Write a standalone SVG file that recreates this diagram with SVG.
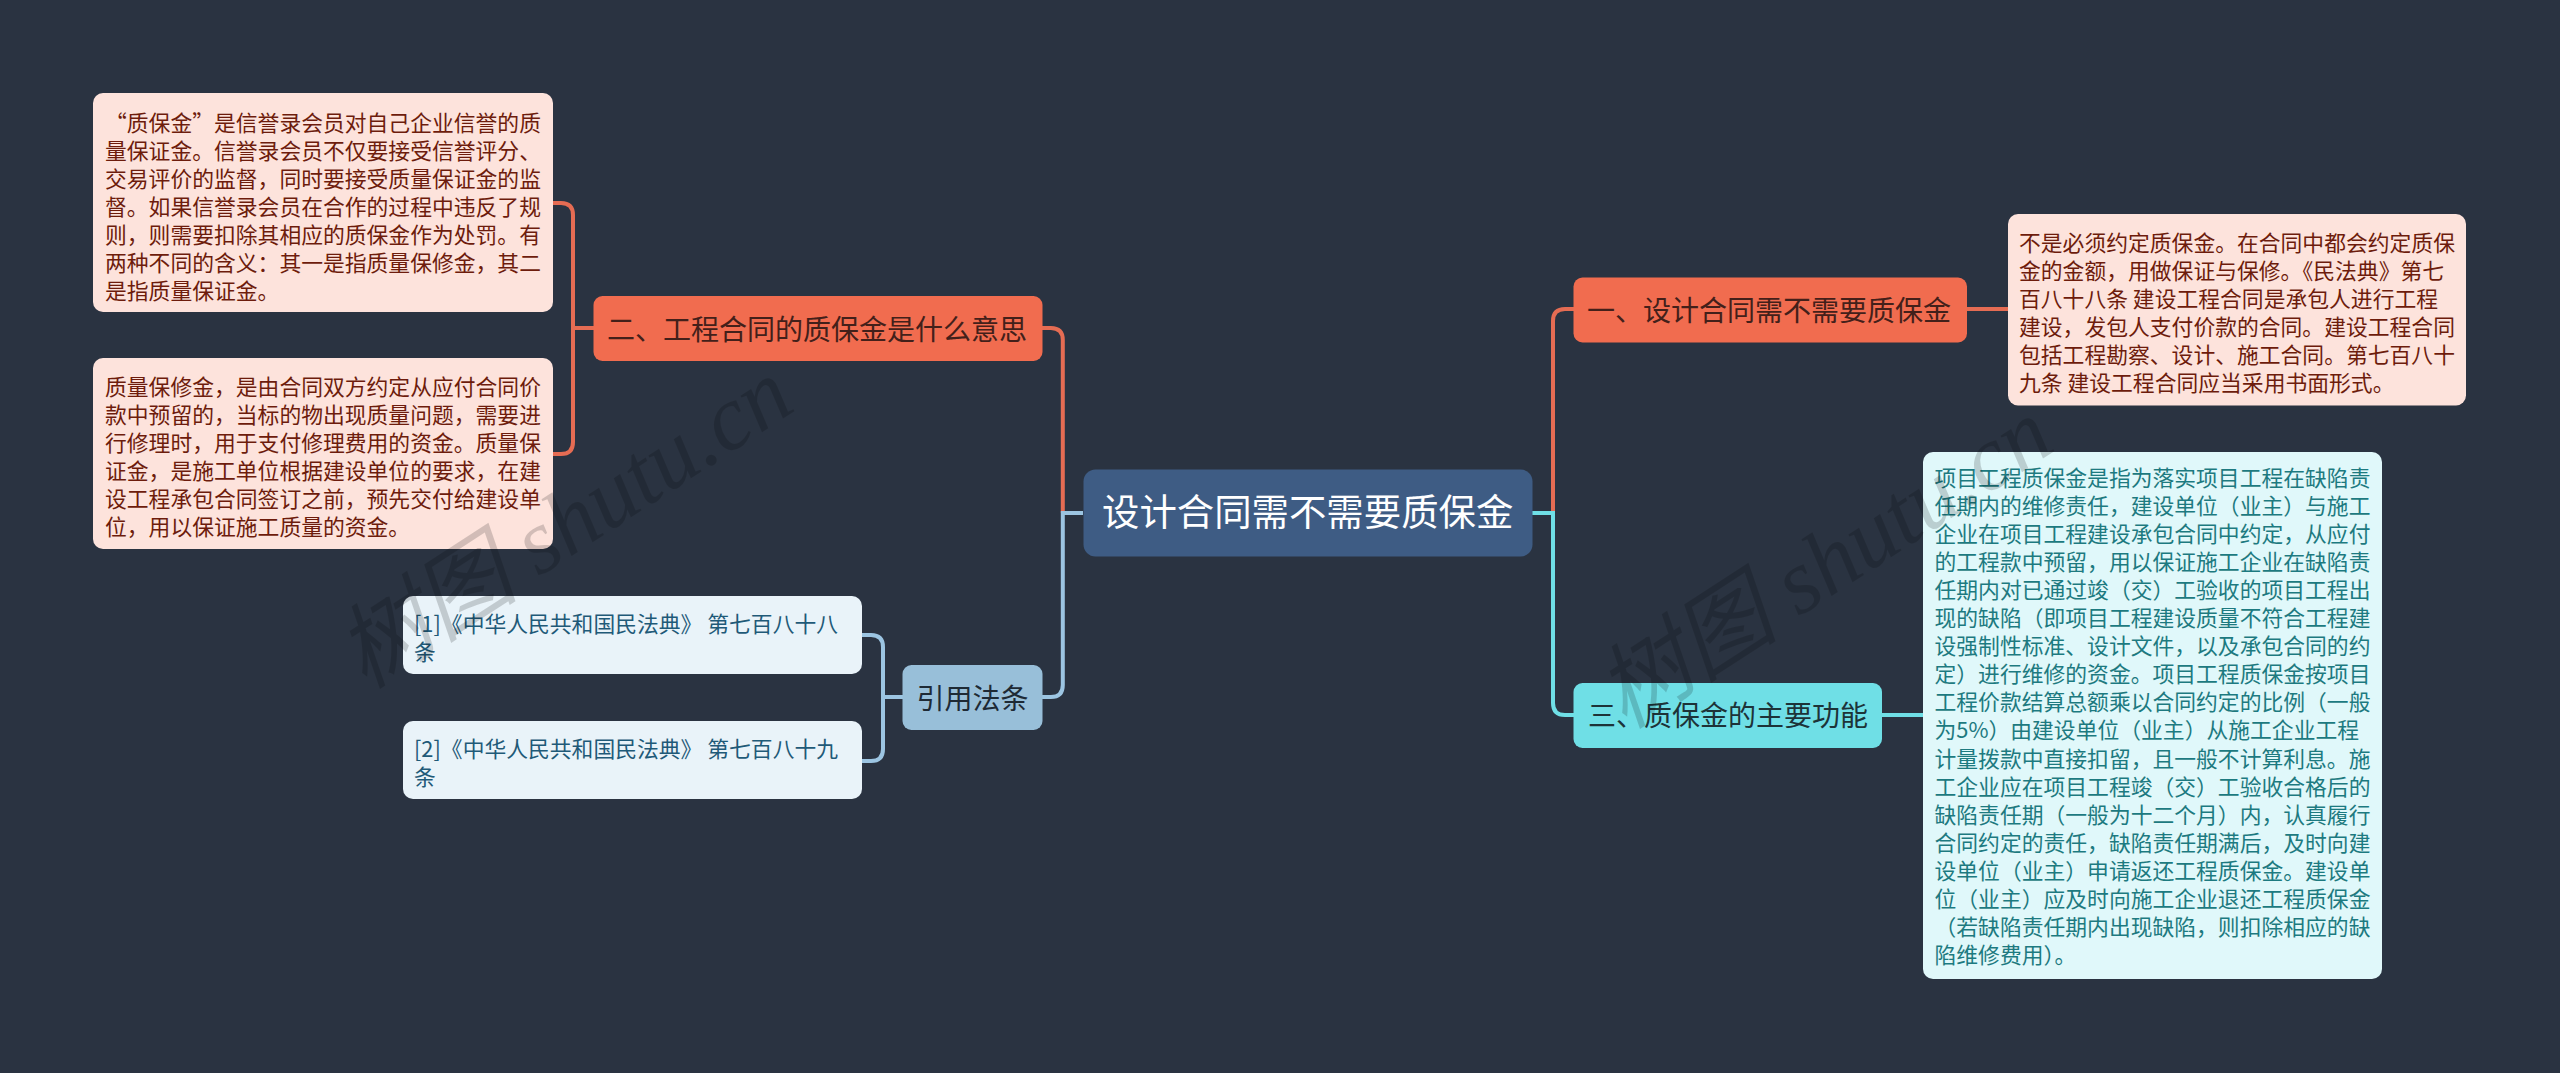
<svg xmlns="http://www.w3.org/2000/svg" width="2560" height="1073" viewBox="0 0 2560 1073" lang="zh-CN">
<style>
text{font-family:"Noto Sans CJK SC","Noto Sans",sans-serif;white-space:pre}
.s{font-size:21.8px}
.m{font-size:28px}
.l{font-size:37.4px;fill:#fff}
.r{fill:#f16c4f}.rt{fill:#43201a}
.p{fill:#fde3dc}.pt{fill:#6d1c0c}
.b{fill:#98bfd9}.bt{fill:#1e2a35}
.q{fill:#e9f3f9}.qt{fill:#1f5a78}
.t{fill:#6fdfe6}.tt{fill:#1d3338}
.u{fill:#e0f8fa}.ut{fill:#1d7a80}
.c{fill:none;stroke-width:4;stroke-linecap:butt}
.cr{stroke:#e56c53}.cb{stroke:#9cc5e2}.ct{stroke:#6fdfe6}
.w{font-family:"Liberation Serif","Noto Sans CJK SC",serif;font-style:italic;font-size:92px;fill:#000;fill-opacity:.17}
</style>
<rect width="2560" height="1073" fill="#2a3341"/>
<g id="connectors">
<path class="c cr" d="M1062.8 513V340Q1062.8 328 1050.8 328H1042"/>
<path class="c cb" d="M1083 513H1062.8V685Q1062.8 697 1050.8 697H1042"/>
<path class="c cr" d="M1553 513V321Q1553 309 1565 309H1574"/>
<path class="c ct" d="M1532 513H1553V703Q1553 715 1565 715H1574"/>
<path class="c cr" d="M553 203H561Q573 203 573 215V442Q573 454 561 454H553M573 328H594"/>
<path class="c cb" d="M862 635H871Q883 635 883 647V749Q883 761 871 761H862M883 697H903"/>
<path class="c cr" d="M1967 309H2008"/>
<path class="c ct" d="M1882 715H1923"/>
</g>
<g id="root">
<rect x="1083.5" y="469.5" width="449" height="87" rx="12" fill="#3e5c84"/>
<text class="l" x="1102" y="526">设计合同需不需要质保金</text>
</g>
<g id="branch-2">
<rect class="r" x="593.5" y="296" width="449" height="65" rx="9"/>
<text class="m rt" x="607" y="340">二、工程合同的质保金是什么意思</text>
</g>
<g id="detail-2a">
<rect class="p" x="93" y="93" width="460" height="219" rx="10"/>
<g class="s pt">
<text x="105" y="130.5">“质保金”是信誉录会员对自己企业信誉的质</text>
<text x="105" y="158.5">量保证金。信誉录会员不仅要接受信誉评分、</text>
<text x="105" y="186.5">交易评价的监督，同时要接受质量保证金的监</text>
<text x="105" y="214.5">督。如果信誉录会员在合作的过程中违反了规</text>
<text x="105" y="242.5">则，则需要扣除其相应的质保金作为处罚。有</text>
<text x="105" y="270.5">两种不同的含义：其一是指质量保修金，其二</text>
<text x="105" y="298.5">是指质量保证金。</text>
</g>
</g>
<g id="detail-2b">
<rect class="p" x="93" y="358" width="460" height="191" rx="10"/>
<g class="s pt">
<text x="105" y="394.5">质量保修金，是由合同双方约定从应付合同价</text>
<text x="105" y="422.5">款中预留的，当标的物出现质量问题，需要进</text>
<text x="105" y="450.5">行修理时，用于支付修理费用的资金。质量保</text>
<text x="105" y="478.5">证金，是施工单位根据建设单位的要求，在建</text>
<text x="105" y="506.5">设工程承包合同签订之前，预先交付给建设单</text>
<text x="105" y="534.5">位，用以保证施工质量的资金。</text>
</g>
</g>
<g id="branch-refs">
<rect class="b" x="902.5" y="665" width="140" height="65" rx="9"/>
<text class="m bt" x="916.5" y="708.5">引用法条</text>
</g>
<g id="ref-1">
<rect class="q" x="403" y="596" width="459" height="78" rx="10"/>
<g class="s qt">
<text x="414" y="631.5">[1]《中华人民共和国民法典》 第七百八十八</text>
<text x="414" y="659.5">条</text>
</g>
</g>
<g id="ref-2">
<rect class="q" x="403" y="721" width="459" height="78" rx="10"/>
<g class="s qt">
<text x="414" y="756.5">[2]《中华人民共和国民法典》 第七百八十九</text>
<text x="414" y="784.5">条</text>
</g>
</g>
<g id="branch-1">
<rect class="r" x="1573.5" y="277.5" width="393.5" height="65" rx="9"/>
<text class="m rt" x="1587" y="320.5">一、设计合同需不需要质保金</text>
</g>
<g id="detail-1">
<rect class="p" x="2008" y="214" width="458" height="191.5" rx="10"/>
<g class="s pt">
<text x="2019" y="251">不是必须约定质保金。在合同中都会约定质保</text>
<text x="2019" y="279">金的金额，用做保证与保修。《民法典》第七</text>
<text x="2019" y="307">百八十八条 建设工程合同是承包人进行工程</text>
<text x="2019" y="335">建设，发包人支付价款的合同。建设工程合同</text>
<text x="2019" y="363">包括工程勘察、设计、施工合同。第七百八十</text>
<text x="2019" y="391">九条 建设工程合同应当采用书面形式。</text>
</g>
</g>
<g id="branch-3">
<rect class="t" x="1573.5" y="683" width="308.5" height="65" rx="9"/>
<text class="m tt" x="1588" y="726">三、质保金的主要功能</text>
</g>
<g id="detail-3">
<rect class="u" x="1923" y="452" width="459" height="527" rx="10"/>
<g class="s ut">
<text x="1934.5" y="485.5">项目工程质保金是指为落实项目工程在缺陷责</text>
<text x="1934.5" y="513.6">任期内的维修责任，建设单位（业主）与施工</text>
<text x="1934.5" y="541.7">企业在项目工程建设承包合同中约定，从应付</text>
<text x="1934.5" y="569.8">的工程款中预留，用以保证施工企业在缺陷责</text>
<text x="1934.5" y="597.9">任期内对已通过竣（交）工验收的项目工程出</text>
<text x="1934.5" y="626">现的缺陷（即项目工程建设质量不符合工程建</text>
<text x="1934.5" y="654.1">设强制性标准、设计文件，以及承包合同的约</text>
<text x="1934.5" y="682.2">定）进行维修的资金。项目工程质保金按项目</text>
<text x="1934.5" y="710.3">工程价款结算总额乘以合同约定的比例（一般</text>
<text x="1934.5" y="738.4">为5%）由建设单位（业主）从施工企业工程</text>
<text x="1934.5" y="766.5">计量拨款中直接扣留，且一般不计算利息。施</text>
<text x="1934.5" y="794.6">工企业应在项目工程竣（交）工验收合格后的</text>
<text x="1934.5" y="822.7">缺陷责任期（一般为十二个月）内，认真履行</text>
<text x="1934.5" y="850.8">合同约定的责任，缺陷责任期满后，及时向建</text>
<text x="1934.5" y="878.9">设单位（业主）申请返还工程质保金。建设单</text>
<text x="1934.5" y="907">位（业主）应及时向施工企业退还工程质保金</text>
<text x="1934.5" y="935.1">（若缺陷责任期内出现缺陷，则扣除相应的缺</text>
<text x="1934.5" y="963.2">陷维修费用）。</text>
</g>
</g>
<g id="watermark">
<text class="w" transform="translate(365 690) rotate(-33)">树图 shutu.cn</text>
<text class="w" transform="translate(1625 730) rotate(-33)">树图 shutu.cn</text>
</g>
</svg>
